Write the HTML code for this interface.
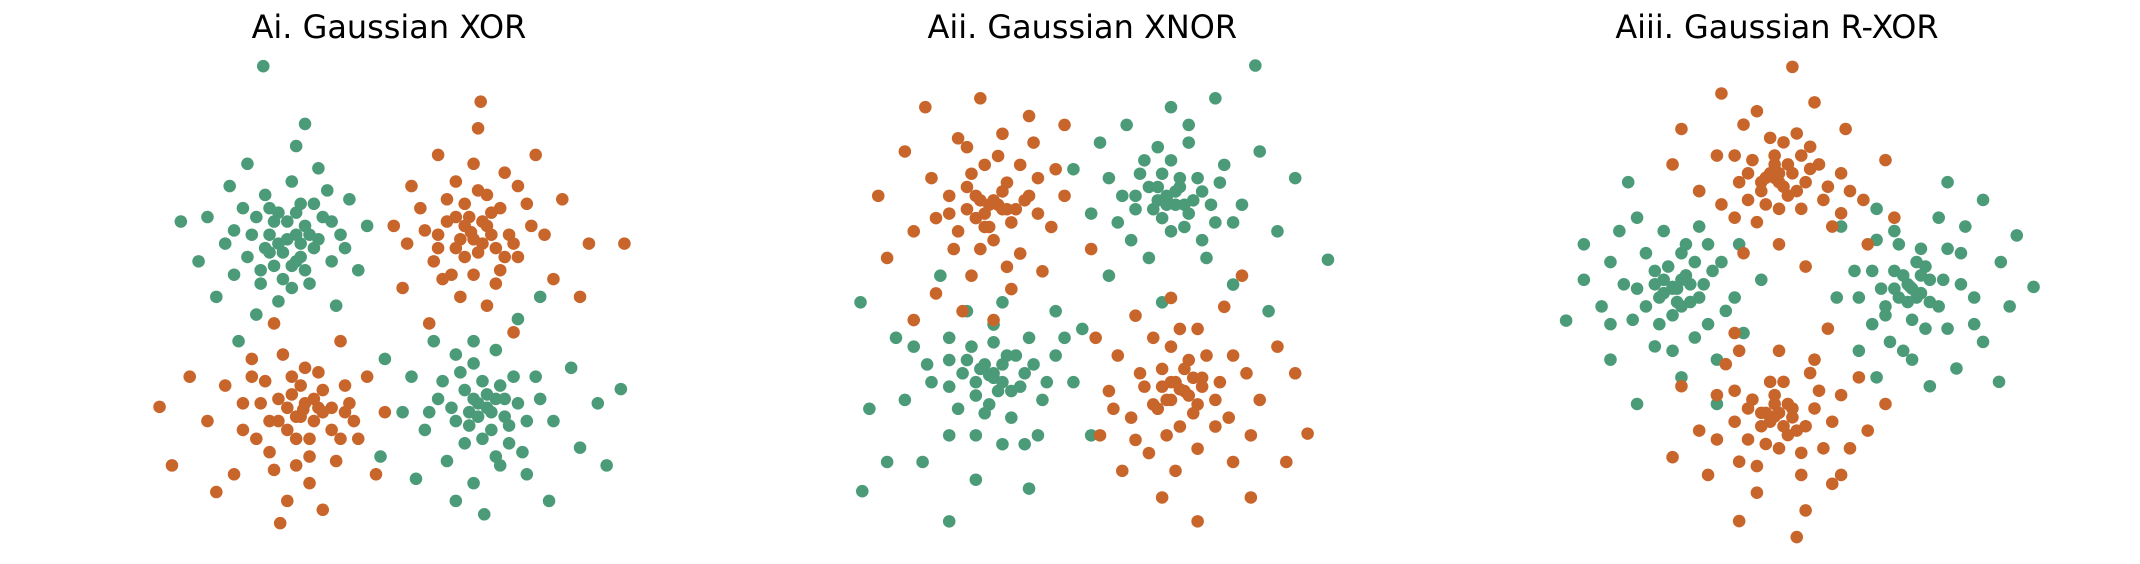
<!DOCTYPE html>
<html><head><meta charset="utf-8"><style>
html,body{margin:0;padding:0;background:#fff;}
svg{display:block;}
</style></head><body>
<svg id="chart" width="2140" height="564" viewBox="0 0 2140 564" xmlns="http://www.w3.org/2000/svg">
<g transform="scale(1.36480)">
<text x="285" y="28" text-anchor="middle" font-family="DejaVu Sans, Liberation Sans, sans-serif" font-size="23.4">Ai. Gaussian XOR</text>
<text x="793" y="28" text-anchor="middle" font-family="DejaVu Sans, Liberation Sans, sans-serif" font-size="23.4">Aii. Gaussian XNOR</text>
<text x="1302" y="28" text-anchor="middle" font-family="DejaVu Sans, Liberation Sans, sans-serif" font-size="23.4">Aiii. Gaussian R-XOR</text>
<g id="marks"></g>
</g>
</svg>
<script>
const GREEN="#4b9b79", ORANGE="#c8652b";
const p1Green=[[-1.1,0.95],[-0.9,1.1],[-1.3,0.8],[-1.0,0.7],[-1.25,1.15],[-0.8,0.85],[-1.5,1.0],[-0.95,1.35],[-1.4,0.6],[-0.7,1.2],[-1.15,0.5],[-1.6,1.3],[-0.6,0.7],[-1.8,0.9],[-1.05,1.6],[-0.5,1.0],[-1.35,1.45],[-0.85,0.45],[-2.0,1.2],[-1.7,0.55],[-0.4,1.4],[-1.2,0.25],[-0.75,1.75],[-2.3,1.15],[-1.55,1.8],[-0.3,0.6],[-1.9,0.3],[-1.0,2.0],[-0.55,0.2],[-1.45,0.1],[-2.1,0.7],[-0.2,1.1],[-1.65,-0.2],[-0.9,2.25],[-1.2,1.25],[-0.95,0.9],[-1.3,1.0],[-1.05,0.65],[-0.65,1.5],[-1.75,1.55],[-1.37,2.9],
[-1.2,0.9],[-1.0,1.0],[-0.85,1.0],[-1.35,0.85],[-1.1,1.15],[-0.95,0.75],[-1.25,0.65],[-1.45,1.2],[-0.75,0.95],[-1.0,1.25],[-1.55,0.75],[-0.6,1.15],[-1.15,0.8],[-1.3,1.3],[-0.9,0.6],[-1.7,1.05],[-0.8,1.35],[-1.4,0.45],[-1.05,0.4],[-0.45,0.85],
[1.05,-0.9],[1.2,-1.0],[0.9,-0.75],[1.3,-0.7],[0.8,-1.1],[1.1,-1.3],[0.6,-0.85],[1.5,-0.9],[1.0,-0.45],[1.4,-1.35],[0.45,-1.2],[1.7,-0.6],[0.7,-1.55],[1.25,-0.3],[1.9,-1.1],[0.3,-0.6],[1.0,-1.8],[1.6,-1.7],[0.2,-1.0],[2.1,-0.5],[0.55,-0.2],[1.5,0.05],[2.2,-1.4],[0.8,-2.0],[1.12,-2.15],[0.0,-0.4],[2.4,-0.9],[1.85,-2.0],[0.35,-1.75],[2.66,-0.74],[1.3,-1.6],[0.95,-1.0],[1.15,-0.8],[1.35,-1.05],[0.85,-0.55],[1.75,0.3],[2.5,-1.6],[-0.05,-1.5],
[1.0,-0.85],[1.15,-0.95],[1.25,-0.85],[0.95,-1.15],[1.1,-0.65],[1.35,-0.85],[0.75,-0.95],[1.2,-1.2],[1.45,-0.6],[0.9,-1.35],[1.6,-1.1],[0.65,-0.65],[1.05,-1.05],[1.4,-1.15],[0.8,-0.35],[1.75,-0.85],[0.5,-1.0],[1.25,-1.5],[1.0,-0.2],[1.55,-1.45]];
const p1Orange=[[0.97,1.03],[1.1,0.9],[0.8,1.2],[1.2,1.25],[0.9,0.75],[0.6,1.0],[1.4,1.0],[1.05,1.5],[0.75,0.55],[1.3,0.6],[0.4,1.3],[1.6,1.35],[0.55,0.7],[1.5,0.75],[1.0,1.8],[0.25,0.9],[1.8,1.0],[0.85,0.3],[1.35,1.7],[0.3,1.55],[1.9,0.5],[0.1,1.1],[1.15,0.2],[2.0,1.4],[0.6,1.9],[1.7,1.9],[0.2,0.4],[1.08,2.5],[1.05,2.2],[2.3,0.9],[0.5,0.0],[1.45,-0.1],[2.2,0.3],[2.7,0.9],[0.95,1.2],[1.15,1.1],[0.85,0.95],[1.25,0.85],[0.7,1.4],
[1.0,0.95],[0.9,1.1],[1.1,1.15],[1.2,1.0],[0.8,0.85],[1.05,0.8],[0.7,1.15],[1.3,1.3],[0.9,1.35],[1.45,0.9],[0.6,0.85],[1.15,1.45],[1.35,0.75],[0.8,1.6],[1.65,1.1],[0.45,1.05],[1.0,0.55],[1.5,1.55],[0.65,0.5],[1.25,0.45],
[-0.92,-0.97],[-0.8,-1.1],[-1.05,-0.8],[-1.2,-1.1],[-0.7,-0.75],[-1.0,-1.3],[-0.6,-1.2],[-1.4,-0.9],[-0.9,-0.5],[-1.3,-1.45],[-0.4,-0.9],[-1.6,-1.2],[-0.55,-1.55],[-1.15,-0.35],[-1.8,-0.7],[-0.3,-1.3],[-0.85,-1.8],[-1.5,-0.4],[-0.2,-0.6],[-2.0,-1.1],[-1.1,-2.0],[-0.5,-0.2],[-1.7,-1.7],[-0.1,-1.7],[-1.25,0.0],[-2.2,-0.6],[-0.7,-2.1],[0.0,-1.0],[-1.9,-1.9],[-1.18,-2.25],[-2.54,-0.94],[-2.4,-1.6],[-0.95,-1.05],[-0.75,-0.95],[-1.1,-0.95],[-0.85,-1.3],[-1.35,-0.65],[-0.45,-1.0],
[-0.9,-0.9],[-1.0,-1.05],[-0.8,-0.85],[-1.1,-1.2],[-0.7,-1.0],[-0.95,-0.7],[-1.2,-0.85],[-0.6,-0.95],[-1.3,-1.1],[-0.85,-1.5],[-1.05,-0.6],[-0.5,-1.3],[-1.45,-1.3],[-0.75,-0.55],[-1.6,-0.9],[-0.35,-1.1],[-1.0,-1.6],[-1.25,-1.65],[-0.45,-0.7],[-1.5,-0.6]];
const p2Green=[[0.95,1.08],[1.1,1.2],[0.8,0.95],[1.2,0.9],[0.9,1.35],[0.6,1.1],[1.35,1.15],[1.0,0.7],[0.7,1.5],[1.5,0.8],[0.4,0.8],[1.6,1.45],[1.2,1.7],[0.3,1.3],[1.8,1.0],[0.75,0.4],[1.4,0.4],[0.5,1.9],[2.0,1.6],[0.1,0.9],[1.0,2.1],[1.95,2.57],[2.2,0.7],[0.3,0.2],[1.7,0.1],[2.77,0.38],[-0.1,1.4],[1.5,2.2],[2.4,1.3],[0.9,-0.1],[0.95,1.0],[1.05,1.15],[0.85,1.2],[1.15,1.0],[2.1,-0.2],[0.2,1.7],
[0.95,1.1],[1.05,1.0],[0.85,1.05],[1.1,1.3],[0.75,1.2],[1.25,1.05],[0.9,0.85],[1.3,1.3],[0.6,0.95],[1.0,1.5],[1.45,1.0],[0.65,1.35],[1.15,0.75],[1.55,1.25],[0.45,1.1],[0.85,1.65],[1.35,0.6],[0.55,0.6],[1.7,0.8],[1.2,1.9],
[-1.05,-0.92],[-0.9,-0.8],[-1.2,-1.0],[-0.8,-1.1],[-1.3,-0.75],[-1.0,-0.55],[-0.65,-0.9],[-1.5,-1.05],[-1.1,-1.35],[-0.6,-0.5],[-1.5,-0.5],[-0.45,-1.2],[-1.75,-0.8],[-0.9,-1.7],[-1.3,-0.2],[-0.3,-0.7],[-2.0,-1.2],[-1.5,-1.6],[-0.5,-1.6],[-0.9,-0.1],[-2.1,-0.5],[-1.8,-1.9],[-0.1,-1.0],[-1.2,-2.1],[-2.4,-1.3],[-0.3,-0.2],[-2.48,-2.23],[-1.5,-2.57],[-0.6,-2.2],[-2.5,-0.1],[0.1,-1.6],[-1.0,-0.95],[-1.15,-0.85],[-0.95,-1.1],[-0.75,-0.7],[-1.6,0.2],[-2.2,-1.9],[0.0,-0.4],
[-1.0,-0.9],[-1.1,-0.8],[-0.9,-1.0],[-1.2,-1.15],[-0.85,-0.7],[-1.35,-0.9],[-0.7,-1.05],[-1.05,-1.25],[-1.25,-0.6],[-0.55,-0.8],[-1.5,-0.75],[-0.8,-1.4],[-1.4,-1.3],[-0.4,-1.0],[-1.0,-0.35],[-1.7,-1.0],[-0.65,-1.7],[-1.2,-1.6],[-0.2,-0.5],[-1.9,-0.6]];
const p2Orange=[[-1.05,1.0],[-0.9,1.15],[-1.2,0.85],[-0.8,0.8],[-1.3,1.2],[-1.0,0.6],[-0.65,1.05],[-1.5,0.9],[-1.1,1.45],[-0.7,0.45],[-1.45,0.5],[-0.5,1.3],[-1.7,1.3],[-0.9,1.8],[-1.25,0.2],[-0.35,0.75],[-1.9,0.7],[-1.4,1.75],[-0.55,1.7],[-0.8,0.05],[-2.0,1.6],[-1.65,0.0],[-0.2,1.1],[-1.15,2.2],[-2.2,0.4],[-0.45,0.25],[-1.77,2.1],[-0.2,1.9],[-1.0,-0.3],[-2.3,1.1],[-1.35,-0.2],[0.1,0.5],[-0.95,1.0],[-1.15,1.05],[-0.85,0.95],[-1.1,0.75],[-0.6,2.0],[-1.9,-0.3],
[-1.0,1.05],[-1.1,0.9],[-0.9,0.95],[-1.2,1.1],[-0.85,1.25],[-1.3,0.95],[-0.75,0.95],[-1.05,0.75],[-1.25,1.35],[-0.6,1.1],[-1.5,1.1],[-0.95,1.55],[-1.4,0.7],[-0.5,0.9],[-1.15,0.5],[-1.65,0.85],[-0.7,1.45],[-0.85,0.3],[-1.3,1.65],[-0.3,1.4],
[1.1,-1.08],[1.25,-0.95],[0.95,-1.2],[1.3,-1.25],[0.9,-0.85],[1.1,-1.5],[0.7,-1.05],[1.55,-1.0],[1.0,-0.6],[1.5,-1.5],[0.55,-1.4],[1.7,-0.7],[0.75,-1.8],[1.3,-0.4],[2.0,-1.2],[0.4,-0.7],[1.05,-2.0],[1.7,-1.9],[0.3,-1.1],[2.2,-0.6],[0.6,-0.25],[1.6,-0.15],[2.54,-1.58],[0.9,-2.3],[1.3,-2.57],[0.15,-0.5],[2.3,-1.9],[1.9,-2.3],[0.45,-2.0],[2.4,-0.9],[1.0,-0.05],[1.15,-1.1],[1.0,-1.0],[1.35,-1.05],[0.85,-1.3],[1.2,-0.75],[0.2,-1.6],[1.8,0.2],
[1.05,-1.0],[1.2,-1.15],[1.0,-1.2],[1.35,-0.95],[0.9,-1.05],[1.15,-0.85],[1.25,-1.35],[0.8,-1.25],[1.5,-1.2],[0.95,-1.6],[1.4,-0.7],[0.65,-0.9],[1.65,-1.4],[1.1,-0.4],[0.6,-1.65],[1.85,-0.9],[1.3,-1.75],[0.8,-0.5],[1.9,-1.6],[0.35,-1.3]];
const p3Green=[[-1.3,0.12],[-1.15,0.25],[-1.45,0.0],[-1.1,-0.05],[-1.5,0.3],[-1.3,-0.2],[-0.95,0.15],[-1.7,0.1],[-1.2,0.5],[-0.9,-0.3],[-1.75,-0.25],[-0.75,0.4],[-2.0,0.4],[-1.4,0.75],[-1.5,-0.55],[-0.6,0.0],[-2.1,-0.1],[-1.0,0.8],[-0.8,-0.7],[-2.3,0.6],[-1.7,0.9],[-2.5,-0.26],[-1.2,-0.9],[-0.5,-0.4],[-1.7,-1.2],[-2.0,-0.7],[-0.55,0.6],[-1.8,1.3],[-0.3,0.2],[-1.25,0.1],[-1.4,0.2],[-1.2,-0.1],[-1.05,0.4],[-2.3,0.2],[-0.8,-1.2],[-1.0,1.2],
[-1.3,0.1],[-1.2,0.2],[-1.4,0.05],[-1.25,-0.05],[-1.5,0.15],[-1.1,0.15],[-1.35,0.35],[-1.6,-0.1],[-1.0,0.0],[-1.45,-0.3],[-1.15,0.6],[-1.85,0.15],[-0.85,0.3],[-1.6,0.5],[-1.05,-0.45],[-2.0,-0.3],[-0.7,-0.15],[-1.3,-0.6],[-1.9,0.75],[-0.9,0.6],
[1.38,0.12],[1.5,0.25],[1.25,0.0],[1.6,-0.05],[1.2,0.3],[1.4,-0.25],[1.75,0.2],[1.05,0.1],[1.5,0.55],[1.8,-0.35],[0.95,-0.3],[1.95,0.5],[1.2,0.75],[2.1,0.0],[1.3,-0.6],[0.75,0.3],[2.2,-0.5],[1.7,0.9],[0.8,-0.6],[2.4,0.4],[1.0,1.0],[2.77,0.12],[1.6,-1.0],[2.38,-0.95],[2.58,0.7],[0.55,0.0],[1.9,-0.8],[2.2,1.1],[0.6,0.8],[1.35,0.15],[1.45,0.0],[1.55,0.35],[1.1,-0.1],[2.5,-0.1],[1.0,-0.9],[1.8,1.3],
[1.4,0.1],[1.3,0.25],[1.5,0.05],[1.35,-0.05],[1.6,0.2],[1.2,0.1],[1.45,0.4],[1.7,-0.1],[1.1,-0.2],[1.55,-0.35],[1.25,0.6],[1.95,0.15],[0.95,0.3],[1.8,0.55],[1.15,-0.5],[2.1,-0.3],[0.8,0.0],[1.4,-0.7],[2.0,0.8],[1.0,0.65]];
const p3Orange=[[-0.15,1.35],[0.0,1.5],[-0.3,1.2],[0.1,1.2],[-0.4,1.55],[-0.1,1.0],[0.25,1.45],[-0.55,1.3],[-0.2,1.8],[0.4,1.1],[-0.6,0.9],[0.1,1.85],[0.6,1.4],[-0.8,1.6],[-0.35,2.1],[0.5,0.8],[-0.1,0.6],[0.85,1.1],[-1.0,1.2],[0.3,2.2],[-0.75,2.3],[0.05,2.6],[1.1,1.55],[-0.5,0.5],[0.9,0.6],[-1.2,1.9],[0.65,1.9],[-0.25,1.35],[-0.05,1.25],[-0.15,1.5],[0.15,1.6],[-0.45,1.1],[1.2,0.9],[-1.3,1.5],[0.2,0.35],[-0.1,1.4],
[-0.1,1.3],[-0.2,1.4],[0.05,1.4],[-0.3,1.3],[0.0,1.15],[-0.15,1.6],[0.2,1.3],[-0.45,1.4],[0.35,1.5],[-0.25,1.05],[0.15,1.0],[-0.6,1.6],[0.45,1.25],[-0.05,1.75],[-0.35,0.85],[0.7,1.2],[-0.75,1.05],[0.25,1.7],[0.6,0.95],[-0.5,1.95],
[-0.15,-1.34],[0.0,-1.2],[-0.3,-1.45],[0.1,-1.5],[-0.4,-1.15],[-0.1,-1.7],[0.3,-1.25],[-0.6,-1.4],[-0.2,-0.95],[0.4,-1.7],[-0.55,-1.85],[0.15,-2.0],[0.6,-1.1],[-0.8,-1.1],[-0.35,-2.2],[0.5,-2.1],[-0.1,-0.6],[0.9,-1.5],[-1.0,-1.5],[0.3,-0.7],[-0.7,-0.75],[-0.55,-2.52],[0.2,-2.4],[-0.9,-2.0],[0.8,-0.9],[-1.2,-1.0],[0.45,-0.35],[-0.25,-1.3],[-0.05,-1.45],[-0.15,-1.1],[0.05,-1.35],[-0.45,-1.6],[1.1,-1.2],[-0.6,-0.4],[0.1,-2.7],[-1.3,-1.8],
[-0.1,-1.3],[-0.2,-1.4],[0.05,-1.25],[-0.3,-1.3],[0.0,-1.55],[-0.15,-1.2],[0.2,-1.45],[-0.45,-1.25],[0.35,-1.05],[-0.25,-1.65],[0.15,-1.75],[-0.6,-1.05],[0.5,-1.4],[-0.05,-0.95],[-0.35,-1.9],[0.7,-1.7],[-0.8,-1.6],[0.25,-0.85],[0.6,-2.0],[-0.55,-0.6]];

const panels=[
 {name:"ai",cx:282,cy:237,u:65,green:p1Green,orange:p1Orange},
 {name:"aii",cx:793,cy:215,u:65,green:p2Green,orange:p2Orange},
 {name:"aiii",cx:1310,cy:218,u:65,green:p3Green,orange:p3Orange}
];
const NS="http://www.w3.org/2000/svg";
const marks=document.getElementById("marks");
panels.forEach(p=>{
  const sx=v=>p.cx+v*p.u, sy=v=>p.cy-v*p.u;
  const g=document.createElementNS(NS,"g");
  
  
  marks.appendChild(g);
  [[p.green,GREEN,"green"],[p.orange,ORANGE,"orange"]].forEach(([arr,col,cls])=>{
    arr.forEach(d=>{
      const c=document.createElementNS(NS,"circle");
      c.setAttribute("cx",sx(d[0]).toFixed(1));
      c.setAttribute("cy",sy(d[1]).toFixed(1));
      c.setAttribute("r","4.6");
      c.setAttribute("fill",col);
      
      
      g.appendChild(c);
    });
  });
});
</script>
</body></html>
